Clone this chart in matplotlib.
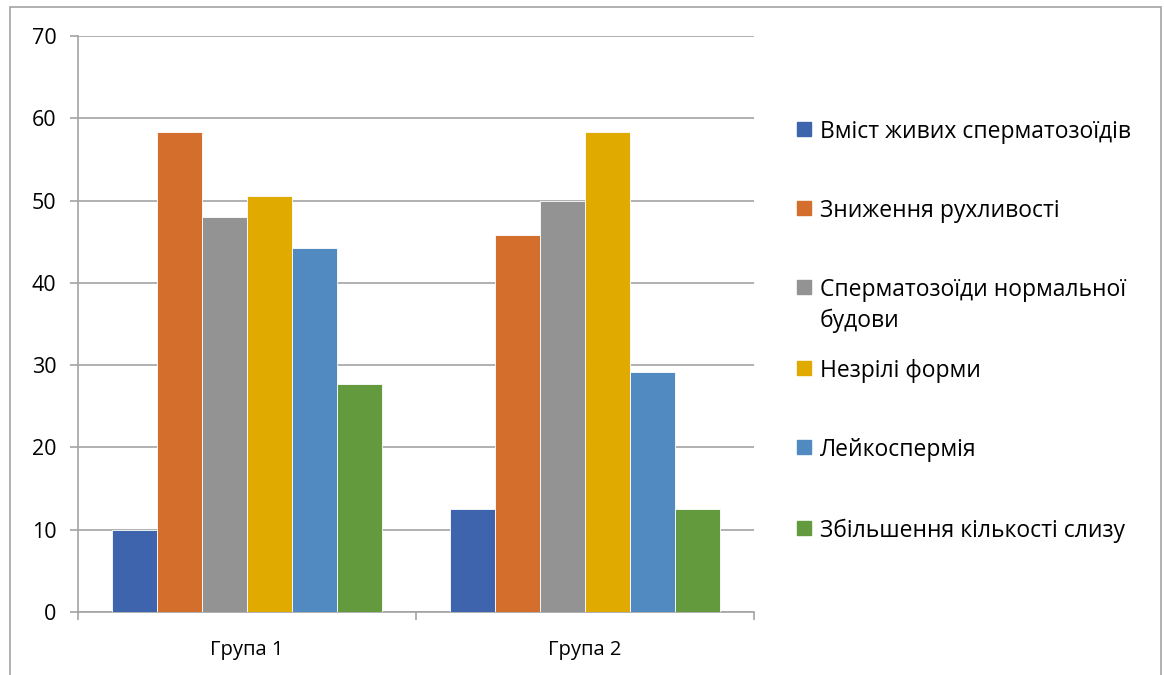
import matplotlib
matplotlib.use("Agg")
import matplotlib.pyplot as plt
from matplotlib.patches import Rectangle
import numpy as np

plt.rcParams['font.family'] = ['Open Sans', 'DejaVu Sans']

groups = ["Група 1", "Група 2"]
series = [
    "Вміст живих сперматозоїдів",
    "Зниження рухливості",
    "Сперматозоїди нормальної\nбудови",
    "Незрілі форми",
    "Лейкоспермія",
    "Збільшення кількості слизу",
]
values_g1 = [10.0, 58.3, 48.0, 50.6, 44.2, 27.7]
values_g2 = [12.5, 45.8, 50.0, 58.3, 29.2, 12.5]
colors = ["#3d64ad", "#d36e2c", "#939393", "#e1aa00", "#508ac0", "#639a3e"]
y_ticks = [0, 10, 20, 30, 40, 50, 60, 70]

W, H = 1164, 675
fig = plt.figure(figsize=(W / 100, H / 100), dpi=100)
ax = fig.add_axes([78 / W, 1 - 612 / H, (754 - 78) / W, (612 - 36) / H])

data = np.array([values_g1, values_g2])
n = len(series)
bar_w = 0.8 / n
x = np.arange(len(groups))
for i in range(n):
    ax.bar(x - 0.4 + bar_w * (i + 0.5), data[:, i], width=bar_w,
           color=colors[i], edgecolor="white", linewidth=0.6, zorder=3)

grid_col = "#a3a3a3"
ax.set_xlim(-0.5, len(groups) - 0.5)
ax.set_ylim(0, 70)
ax.set_yticks(y_ticks)
ax.set_yticklabels([str(t) for t in y_ticks], fontsize=15.5)
ax.yaxis.grid(True, color=grid_col, linewidth=1.2, zorder=0)
ax.set_axisbelow(True)

# category labels centred, boundary ticks between categories
ax.set_xticks(np.arange(-0.5, len(groups)))
ax.set_xticklabels([""] * (len(groups) + 1))
ax.set_xticks(x, minor=True)
ax.set_xticklabels(groups, minor=True, fontsize=14.5)
ax.tick_params(axis="x", which="major", length=6, width=1.2, color=grid_col, direction="out")
ax.tick_params(axis="x", which="minor", length=0, pad=20)
ax.tick_params(axis="y", length=5.5, width=1.2, color=grid_col, pad=10)

for side in ["top", "right"]:
    ax.spines[side].set_visible(False)
for side in ["left", "bottom"]:
    ax.spines[side].set_color(grid_col)
    ax.spines[side].set_linewidth(1.2)

# legend drawn beside the plot
legend_y = [129, 208, 287, 368, 447, 528]
for lbl, col, yy in zip(series, colors, legend_y):
    fig.patches.append(Rectangle((797 / W, 1 - (yy + 7) / H), 14 / W, 14 / H,
                                 transform=fig.transFigure, color=col, figure=fig))
    for k, line in enumerate(lbl.split("\n")):
        fig.text(820 / W, 1 - (yy + 31 * k) / H, line, fontsize=16.5,
                 va="center_baseline", ha="left")

# chart frame
fig.patches.append(Rectangle((10 / W, -0.05), (1161 - 10) / W, 1 - 7 / H + 0.05,
                             transform=fig.transFigure, fill=False, edgecolor=grid_col,
                             linewidth=1.2, figure=fig))

fig.savefig("out.png", dpi=100)
